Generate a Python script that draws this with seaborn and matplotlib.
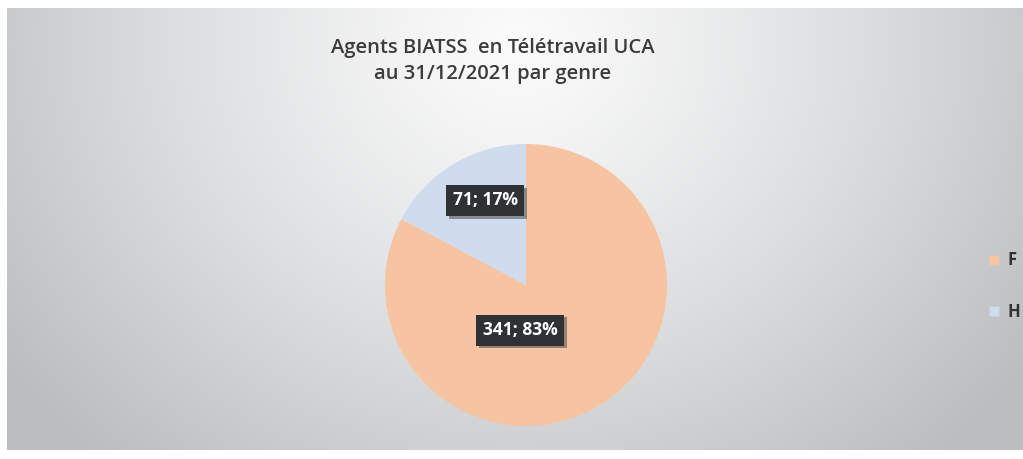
import numpy as np
import matplotlib
matplotlib.use("Agg")
import matplotlib.pyplot as plt
import matplotlib.patheffects as pe
from matplotlib.lines import Line2D
import seaborn as sns

# Data
genres = ["F", "H"]
effectifs = [341, 71]
pourcentages = [83, 17]
couleurs = ["#F7C4A2", "#CEDCEE"]
titre = "Agents BIATSS  en Télétravail UCA\nau 31/12/2021 par genre"

sns.set_theme(style="white")
plt.rcParams["font.family"] = ["Open Sans", "DejaVu Sans"]

W, H = 1023, 459
fig = plt.figure(figsize=(W / 100, H / 100), dpi=100)
fig.patch.set_facecolor("white")

# Radial gradient background of the chart area
bg = fig.add_axes([7 / W, 9 / H, 1016 / W, 442 / H])
bg.set_axis_off()
ny, nx = 221, 508
yy, xx = np.mgrid[0:ny, 0:nx]
cx, cy = nx * 0.50, ny * 0.08
d = np.sqrt(((xx - cx) / (nx * 0.62)) ** 2 + ((yy - cy) / (ny * 1.25)) ** 2)
t = np.clip(d, 0, 1) ** 1.2
light = np.array([0.985, 0.985, 0.985])
dark = np.array([0.73, 0.745, 0.755])
img = light[None, None, :] * (1 - t[..., None]) + dark[None, None, :] * t[..., None]
bg.imshow(img, aspect="auto", extent=[0, 1, 0, 1], interpolation="bilinear")
bg.set_xlim(0, 1)
bg.set_ylim(0, 1)

# Title
fig.text(493 / W, 1 - 61 / H, titre, ha="center", va="center", fontsize=14.5,
         fontweight="semibold", color="#3C3C3C", linespacing=1.45)

# Pie
r_px = 141
pcx, pcy = 526, 285
ax = fig.add_axes([(pcx - r_px) / W, (H - pcy - r_px) / H, 2 * r_px / W, 2 * r_px / H])
wedges, _ = ax.pie(effectifs, colors=couleurs, startangle=90, counterclock=False,
                   radius=1.0, wedgeprops=dict(linewidth=0))
ax.set_xlim(-1, 1)
ax.set_ylim(-1, 1)
ax.set_aspect("equal")
ax.set_axis_off()

# Data labels in dark boxes with a soft shadow
label_pos = {"F": (-0.04, -0.32), "H": (-0.29, 0.60)}
for g, n, p in zip(genres, effectifs, pourcentages):
    x, y = label_pos[g]
    txt = ax.text(x, y, f"{n}; {p}%", ha="center", va="center", fontsize=12.5,
                  fontweight="bold", color="white",
                  bbox=dict(boxstyle="square,pad=0.38", fc="#2E3234", ec="none"))
    txt.get_bbox_patch().set_path_effects([
        pe.withSimplePatchShadow(offset=(2, -2), shadow_rgbFace="#555555", alpha=0.6),
        pe.Normal()])

# Legend
handles = [Line2D([0], [0], marker="s", linestyle="none", markersize=7,
                  markerfacecolor=c, markeredgecolor="none") for c in couleurs]
leg = fig.legend(handles, genres, loc="center left", bbox_to_anchor=(986 / W, 1 - 286 / H),
                 frameon=False, labelspacing=2.0, handletextpad=0.3, handlelength=1.0,
                 borderpad=0, borderaxespad=0, prop=dict(weight="bold", size=12))
for t_ in leg.get_texts():
    t_.set_color("#333333")

fig.savefig("out.png", dpi=100)
